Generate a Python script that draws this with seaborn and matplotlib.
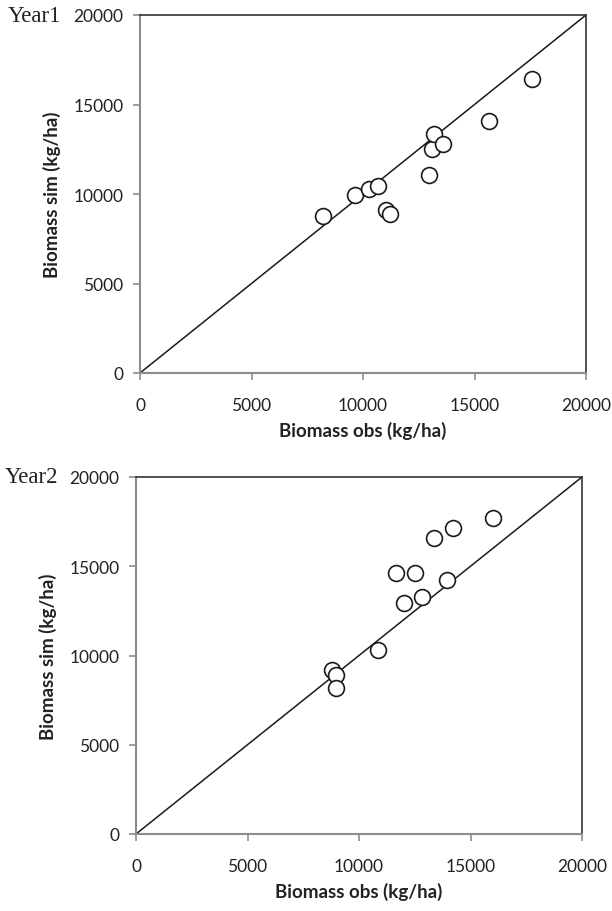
import matplotlib
matplotlib.use('Agg')
import matplotlib.pyplot as plt
import seaborn as sns
import pandas as pd

# Year 1 observed vs simulated biomass (kg/ha)
obs_year1 = [8200, 9650, 10250, 10690, 11030, 11220, 12940, 13110, 13200, 13600, 15650, 17580]
sim_year1 = [8770, 9950, 10280, 10470, 9100, 8860, 11080, 12500, 13360, 12790, 14060, 16450]

# Year 2 observed vs simulated biomass (kg/ha)
obs_year2 = [8810, 8950, 8980, 10840, 11670, 12020, 12490, 12840, 13370, 13950, 14210, 16000]
sim_year2 = [9210, 8930, 8160, 10310, 14620, 12960, 14620, 13280, 16600, 14210, 17120, 17700]

# 1:1 reference line and axis ticks
one_to_one = [0, 20000]
tick_values = [0, 5000, 10000, 15000, 20000]
panel_names = ['Year1', 'Year2']

sns.set_theme(style='white')
plt.rcParams['font.family'] = ['Lato', 'DejaVu Sans']

fig = plt.figure(figsize=(6.12, 9.12), dpi=100)
ax_top = fig.add_axes([140 / 612, 1 - 374 / 912, 446 / 612, 358 / 912])
ax_bot = fig.add_axes([136 / 612, 1 - 835 / 912, 446 / 612, 357 / 912])

panels = [
    (ax_top, obs_year1, sim_year1, panel_names[0], 8),
    (ax_bot, obs_year2, sim_year2, panel_names[1], 5),
]

for ax, obs, sim, name, name_x in panels:
    df = pd.DataFrame({'obs': obs, 'sim': sim})
    sns.lineplot(x=one_to_one, y=one_to_one, ax=ax, color='#1a1a1a', linewidth=1.1)
    sns.scatterplot(data=df, x='obs', y='sim', ax=ax, s=130, facecolor='white',
                    edgecolor='#1a1a1a', linewidth=1.2, zorder=3)

    ax.set_xlim(0, 20000)
    ax.set_ylim(0, 20000)
    ax.set_xticks(tick_values)
    ax.set_yticks(tick_values)
    ax.tick_params(axis='both', which='major', direction='out', length=5, width=1.2,
                   color='#8c8c8c', labelsize=12.5, labelcolor='#222222', bottom=True, left=True)
    ax.tick_params(axis='x', pad=12)
    ax.tick_params(axis='y', pad=7)

    for side in ['left', 'bottom']:
        ax.spines[side].set_color('#8c8c8c')
        ax.spines[side].set_linewidth(1.5)
    for side in ['top', 'right']:
        ax.spines[side].set_color('#333333')
        ax.spines[side].set_linewidth(1.2)

    ax.set_xlabel('Biomass obs (kg/ha)', fontsize=13.5, fontweight='bold', color='#222222', labelpad=6)
    ax.set_ylabel('Biomass sim (kg/ha)', fontsize=13.5, fontweight='bold', color='#222222', labelpad=9)

    # panel label, placed in figure pixels so it stays on the canvas
    bbox = ax.get_position()
    fig.text(name_x / 612, bbox.y1, name, ha='left', va='center',
             fontsize=16.5, family=['Liberation Serif', 'DejaVu Serif'], color='#222222')

fig.savefig('out.png', dpi=100)
plt.close(fig)
